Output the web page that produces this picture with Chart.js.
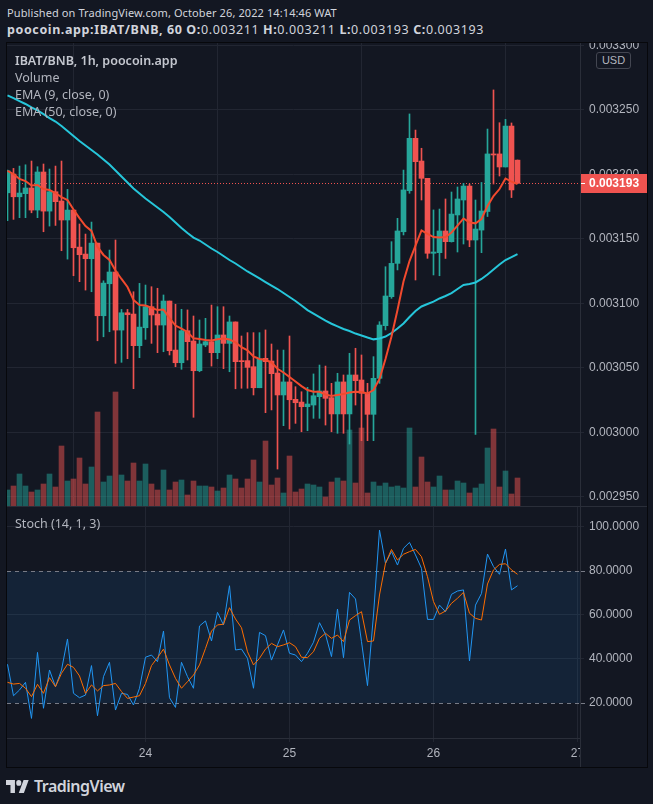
<!DOCTYPE html>
<html>
<head>
<meta charset="utf-8">
<script src="https://cdn.jsdelivr.net/npm/chart.js@4.4.1/dist/chart.umd.min.js"></script>
<style>
  html, body { margin: 0; padding: 0; background: #131722; }
  body { width: 653px; height: 804px; position: relative; overflow: hidden;
         font-family: "Noto Sans", "Open Sans", sans-serif; color: #d1d4dc; }
  .abs { position: absolute; white-space: nowrap; }
  #pub { left: 7px; top: 4px; font-size: 11px; line-height: 18px; letter-spacing: 0.1px; }
  #sym { left: 7px; top: 21px; font-size: 12.5px; line-height: 18px; letter-spacing: 0.6px; }
  #frame { left: 6px; top: 42px; width: 640px; height: 724px; border: 1px solid #07080c; }
  #frame canvas { position: absolute; left: 0; }
  #main { top: 0; }
  #sep { position: absolute; left: 0; top: 463px; width: 640px; height: 1px; background: #2a2e39; }
  #stoch { top: 464px; }
  .leg { left: 15px; font-size: 12.5px; line-height: 17px; color: #b2b5be; }
  #legTitle { top: 52px; font-weight: 600; color: #c4c7cf; }
  #usd { left: 596px; top: 52px; width: 33px; height: 15px; border: 1px solid #434651; border-radius: 3px;
         font: 11px "Liberation Sans", sans-serif; line-height: 15px; text-align: center; color: #b2b5be; background: #131722; }
  #logo { left: 6px; top: 776px; height: 20px; display: flex; align-items: center; }
  #logo span { font-size: 16px; font-weight: 600; letter-spacing: -0.5px; color: #d1d4dc; margin-left: 5px; }
</style>
</head>
<body>
<div class="abs" id="pub">Published on TradingView.com, October 26, 2022 14:14:46 WAT</div>
<div class="abs" id="sym"></div>

<div class="abs" id="frame">
  <canvas id="main" width="640" height="463"></canvas>
  <div id="sep"></div>
  <canvas id="stoch" width="640" height="260"></canvas>
</div>

<div class="abs leg" id="legTitle">IBAT/BNB, 1h, poocoin.app</div>
<div class="abs leg" style="top:69px">Volume</div>
<div class="abs leg" style="top:86px">EMA (9, close, 0)</div>
<div class="abs leg" style="top:103px">EMA (50, close, 0)</div>
<div class="abs leg" style="top:515px">Stoch (14, 1, 3)</div>
<div class="abs" id="usd">USD</div>
<div class="abs" id="logo">
  <svg width="23" height="13" viewBox="0 4 36 18" preserveAspectRatio="none"><g fill="#d1d4dc">
    <path d="M14 22H7V11H0V4h14v18zM28 22h-8l7.5-18h8L28 22z"/><circle cx="20" cy="8" r="4"/></g></svg>
  <span>TradingView</span>
</div>

<script>
// hours since Oct 23 00:00 (one candle per hour)
const hours = [1, 2, 3, 4, 5, 6, 7, 8, 9, 10, 11, 12, 13, 14, 15, 16, 17, 18, 19, 20,
  21, 22, 23, 24, 25, 26, 27, 28, 29, 30, 31, 32, 33, 34, 35, 36, 37, 38, 39, 40,
  41, 42, 43, 44, 45, 46, 47, 48, 49, 50, 51, 52, 53, 54, 55, 56, 57, 58, 59, 60,
  61, 62, 63, 64, 65, 66, 67, 68, 69, 70, 71, 72, 73, 74, 75, 76, 77, 78, 79, 80,
  81, 82, 83, 84, 85, 86];
const dayTicks = [24, 48, 72, 96];
const dayLabels = ['24', '25', '26', '27'];
const priceTicks = [0.00295, 0.003, 0.00305, 0.0031, 0.00315, 0.0032, 0.00325, 0.0033];
const stochTicks = [20, 40, 60, 80, 100];
const stochBand = [20, 80];

const open = [0.0031857, 0.0032002, 0.0031826, 0.0031850, 0.0031894, 0.0031723, 0.0032018, 0.0031715, 0.0031865, 0.0031793,
  0.0031646, 0.0031723, 0.0031436, 0.0031382, 0.0031346, 0.0031467, 0.0030904, 0.0031152, 0.0031243, 0.0030793,
  0.0030927, 0.0030917, 0.0030672, 0.0030811, 0.0030974, 0.0030917, 0.0030832, 0.0031018, 0.0030638, 0.0030540,
  0.0030788, 0.0030708, 0.0030478, 0.0030677, 0.0030703, 0.0030618, 0.0030755, 0.0030690, 0.0030856, 0.0030556,
  0.0030556, 0.0030509, 0.0030346, 0.0030574, 0.0030553, 0.0030460, 0.0030290, 0.0030391, 0.0030256, 0.0030235,
  0.0030199, 0.0030212, 0.0030277, 0.0030321, 0.0030269, 0.0030143, 0.0030391, 0.0030143, 0.0030445, 0.0030406,
  0.0030303, 0.0030140, 0.0030419, 0.0030827, 0.0031052, 0.0031310, 0.0031555, 0.0031873, 0.0032279, 0.0032103,
  0.0031969, 0.0031388, 0.0031393, 0.0031561, 0.0031478, 0.0031685, 0.0031801, 0.0031909, 0.0031491, 0.0031568,
  0.0031712, 0.0032158, 0.0032158, 0.0032057, 0.0032374, 0.0032110];
const high = [0.0032033, 0.0032046, 0.0032064, 0.0032074, 0.0032103, 0.0032059, 0.0032080, 0.0032041, 0.0032064, 0.0032103,
  0.0031883, 0.0031723, 0.0031615, 0.0031537, 0.0031630, 0.0031467, 0.0031175, 0.0031413, 0.0031491, 0.0030953,
  0.0030953, 0.0031090, 0.0031155, 0.0031142, 0.0031129, 0.0031117, 0.0031065, 0.0031018, 0.0030993, 0.0030954,
  0.0030949, 0.0030902, 0.0030871, 0.0030884, 0.0030987, 0.0030974, 0.0030974, 0.0030902, 0.0030856, 0.0030747,
  0.0030773, 0.0030773, 0.0030773, 0.0030794, 0.0030685, 0.0030638, 0.0030638, 0.0030747, 0.0030354, 0.0030315,
  0.0030349, 0.0030453, 0.0030522, 0.0030514, 0.0030380, 0.0030458, 0.0030445, 0.0030613, 0.0030652, 0.0030600,
  0.0030380, 0.0030587, 0.0030858, 0.0031284, 0.0031478, 0.0031659, 0.0032033, 0.0032468, 0.0032343, 0.0032202,
  0.0031969, 0.0031724, 0.0031731, 0.0031809, 0.0031863, 0.0031902, 0.0031930, 0.0031925, 0.0031801, 0.0031937,
  0.0032351, 0.0032654, 0.0032400, 0.0032426, 0.0032398, 0.0032111];
const low = [0.0031640, 0.0031651, 0.0031664, 0.0031664, 0.0031702, 0.0031664, 0.0031555, 0.0031599, 0.0031604, 0.0031408,
  0.0031343, 0.0031214, 0.0031168, 0.0031103, 0.0031090, 0.0030710, 0.0030741, 0.0030780, 0.0030535, 0.0030543,
  0.0030571, 0.0030339, 0.0030579, 0.0030721, 0.0030690, 0.0030618, 0.0030625, 0.0030600, 0.0030509, 0.0030489,
  0.0030561, 0.0030117, 0.0030470, 0.0030664, 0.0030514, 0.0030571, 0.0030494, 0.0030470, 0.0030338, 0.0030342,
  0.0030342, 0.0030290, 0.0030346, 0.0030153, 0.0030174, 0.0029716, 0.0030052, 0.0030026, 0.0030070, 0.0030005,
  0.0030013, 0.0030109, 0.0030109, 0.0030057, 0.0030005, 0.0029993, 0.0029993, 0.0029910, 0.0030212, 0.0029936,
  0.0029936, 0.0029936, 0.0030380, 0.0030794, 0.0031039, 0.0031259, 0.0031530, 0.0031853, 0.0031181, 0.0031801,
  0.0031349, 0.0031220, 0.0031214, 0.0031348, 0.0031475, 0.0031398, 0.0031460, 0.0031439, 0.0029984, 0.0031393,
  0.0031673, 0.0031925, 0.0031987, 0.0032057, 0.0031820, 0.0031930];
const close = [0.0032028, 0.0031826, 0.0031855, 0.0031894, 0.0031723, 0.0032018, 0.0031715, 0.0031865, 0.0031788, 0.0031646,
  0.0031723, 0.0031431, 0.0031377, 0.0031346, 0.0031467, 0.0030904, 0.0031157, 0.0031243, 0.0030793, 0.0030927,
  0.0030912, 0.0030672, 0.0030816, 0.0030974, 0.0030910, 0.0030832, 0.0031018, 0.0030633, 0.0030540, 0.0030788,
  0.0030703, 0.0030478, 0.0030685, 0.0030703, 0.0030618, 0.0030755, 0.0030690, 0.0030856, 0.0030548, 0.0030548,
  0.0030504, 0.0030346, 0.0030569, 0.0030548, 0.0030455, 0.0030290, 0.0030391, 0.0030253, 0.0030230, 0.0030199,
  0.0030220, 0.0030284, 0.0030321, 0.0030264, 0.0030143, 0.0030391, 0.0030143, 0.0030445, 0.0030401, 0.0030303,
  0.0030140, 0.0030419, 0.0030832, 0.0031057, 0.0031310, 0.0031561, 0.0031879, 0.0032279, 0.0032098, 0.0031969,
  0.0031388, 0.0031398, 0.0031561, 0.0031478, 0.0031692, 0.0031809, 0.0031909, 0.0031491, 0.0031576, 0.0031716,
  0.0032158, 0.0032150, 0.0032057, 0.0032374, 0.0031879, 0.0031930];
// volume, arbitrary units
const volume = [16, 20, 32, 20, 14, 16, 22, 32, 19, 60, 25, 27, 48, 22, 39, 94, 24, 30, 114, 31,
  25, 43, 25, 42, 22, 16, 36, 16, 24, 26, 11, 25, 20, 20, 19, 15, 18, 31, 27, 18,
  27, 46, 24, 65, 21, 28, 13, 50, 14, 17, 22, 21, 19, 9, 24, 28, 25, 76, 23, 78,
  13, 24, 20, 23, 19, 20, 18, 78, 19, 49, 24, 19, 30, 16, 16, 25, 23, 13, 18, 22,
  58, 77, 19, 35, 12, 28];
const ema9 = [0.0032026, 0.0032002, 0.0031964, 0.0031948, 0.0031913, 0.0031917, 0.0031886, 0.0031878, 0.0031855, 0.0031824,
  0.0031801, 0.0031727, 0.0031661, 0.0031599, 0.0031561, 0.0031437, 0.0031375, 0.0031336, 0.0031255, 0.0031189,
  0.0031127, 0.0031026, 0.0030987, 0.0030983, 0.0030966, 0.0030948, 0.0030952, 0.0030886, 0.0030828, 0.0030805,
  0.0030778, 0.0030729, 0.0030724, 0.0030716, 0.0030712, 0.0030721, 0.0030728, 0.0030720, 0.0030697, 0.0030660,
  0.0030636, 0.0030588, 0.0030569, 0.0030561, 0.0030542, 0.0030493, 0.0030464, 0.0030429, 0.0030394, 0.0030359,
  0.0030328, 0.0030315, 0.0030315, 0.0030294, 0.0030282, 0.0030290, 0.0030297, 0.0030309, 0.0030315, 0.0030313,
  0.0030301, 0.0030328, 0.0030414, 0.0030569, 0.0030743, 0.0030948, 0.0031169, 0.0031328, 0.0031448, 0.0031565,
  0.0031539, 0.0031514, 0.0031510, 0.0031514, 0.0031549, 0.0031603, 0.0031658, 0.0031627, 0.0031620, 0.0031654,
  0.0031754, 0.0031832, 0.0031886, 0.0031968, 0.0031944, 0.0031925];
const ema50 = [0.0032612, 0.0032591, 0.0032568, 0.0032545, 0.0032518, 0.0032495, 0.0032467, 0.0032436, 0.0032409, 0.0032374,
  0.0032336, 0.0032297, 0.0032258, 0.0032223, 0.0032188, 0.0032154, 0.0032115, 0.0032076, 0.0032030, 0.0031983,
  0.0031937, 0.0031890, 0.0031851, 0.0031813, 0.0031778, 0.0031743, 0.0031708, 0.0031669, 0.0031627, 0.0031584,
  0.0031545, 0.0031510, 0.0031487, 0.0031456, 0.0031425, 0.0031398, 0.0031367, 0.0031336, 0.0031309, 0.0031278,
  0.0031247, 0.0031220, 0.0031193, 0.0031165, 0.0031138, 0.0031111, 0.0031080, 0.0031049, 0.0031018, 0.0030983,
  0.0030948, 0.0030921, 0.0030894, 0.0030867, 0.0030842, 0.0030821, 0.0030801, 0.0030786, 0.0030766, 0.0030751,
  0.0030735, 0.0030721, 0.0030728, 0.0030743, 0.0030770, 0.0030805, 0.0030844, 0.0030894, 0.0030941, 0.0030976,
  0.0030995, 0.0031014, 0.0031038, 0.0031057, 0.0031080, 0.0031111, 0.0031142, 0.0031150, 0.0031162, 0.0031189,
  0.0031224, 0.0031262, 0.0031301, 0.0031336, 0.0031359, 0.0031382];
const stochK = [37.6, 23.3, 25.9, 29.4, 13.0, 43.0, 17.6, 35.0, 27.4, 35.0,
  49.1, 24.4, 22.4, 23.6, 37.0, 14.2, 32.0, 38.5, 16.8, 24.4,
  23.9, 19.1, 26.7, 40.8, 41.8, 38.8, 52.7, 22.4, 18.0, 38.5,
  32.0, 26.7, 55.0, 57.3, 48.2, 61.2, 55.5, 73.3, 44.1, 44.5,
  40.3, 26.7, 52.1, 50.6, 39.5, 46.4, 53.2, 42.6, 41.8, 38.8,
  42.6, 47.6, 56.5, 51.2, 41.1, 62.7, 40.6, 70.3, 67.3, 47.9,
  27.9, 60.0, 98.6, 83.5, 88.8, 82.7, 90.3, 93.0, 87.3, 81.2,
  58.0, 58.0, 64.5, 61.5, 69.4, 70.9, 71.4, 39.1, 64.5, 69.8,
  87.7, 82.0, 78.5, 90.0, 71.4, 73.3];
const stochD = [29.4, 28.6, 28.9, 26.7, 22.9, 28.5, 24.4, 31.5, 27.4, 33.5,
  37.6, 36.2, 32.3, 24.4, 28.2, 25.5, 27.9, 28.2, 28.9, 25.2,
  22.1, 22.7, 23.3, 28.9, 37.0, 40.6, 44.5, 37.3, 31.2, 26.7,
  29.7, 32.7, 37.3, 44.8, 52.7, 55.5, 55.8, 63.3, 58.2, 54.2,
  43.3, 37.3, 40.3, 44.5, 47.1, 45.6, 46.4, 47.4, 45.6, 40.8,
  40.6, 43.3, 49.4, 51.7, 49.4, 50.9, 47.9, 57.7, 59.7, 61.5,
  47.9, 48.2, 69.1, 83.5, 89.8, 85.0, 87.6, 88.8, 89.8, 86.5,
  77.4, 66.1, 60.3, 61.8, 65.3, 67.6, 70.3, 60.8, 58.5, 57.7,
  74.1, 80.5, 83.0, 83.3, 80.5, 78.5];

// visible window
const X_MIN = 0.9167, X_MAX = 96.417;
const PRICE_MIN = 0.00294295, PRICE_MAX = 0.00330178;
const VOL_MAX = 463;
const STOCH_MIN = 4.09, STOCH_MAX = 109.09;

const BG = '#131722';
const UP = '#26a69a', DOWN = '#ef5350';
const UP_VOL = 'rgba(38,166,154,0.5)', DOWN_VOL = 'rgba(239,83,80,0.5)';
const GRID = '#222632';
const AXIS_LINE = '#2a2e39';
const TEXT = '#b2b5be';

Chart.defaults.font.family = '"Liberation Sans", Arial, sans-serif';
Chart.defaults.font.size = 12;

const last = close.length - 1;
const isUp = close.map((c, k) => c >= open[k]);
const pt = (arr) => hours.map((h, k) => ({ x: h, y: arr[k] }));

// header with the last candle's OHLC
document.getElementById('sym').innerHTML =
  `<b>poocoin.app:IBAT/BNB, 60</b> <b>O:</b>${open[last].toFixed(6)} <b>H:</b>${high[last].toFixed(6)} ` +
  `<b>L:</b>${low[last].toFixed(6)} <b>C:</b>${close[last].toFixed(6)}`;

const noPad = (s) => { s.paddingTop = 0; s.paddingBottom = 0; s.paddingLeft = 0; s.paddingRight = 0; };

const xAxis = (showLabels) => ({
  type: 'linear', min: X_MIN, max: X_MAX, offset: false,
  afterBuildTicks: (s) => { s.ticks = dayTicks.map(v => ({ value: v })); },
  afterFit: (s) => { s.height = showLabels ? 29 : 0; noPad(s); },
  grid: { color: GRID, drawTicks: showLabels, tickLength: 4 },
  border: { display: showLabels, color: AXIS_LINE },
  ticks: {
    display: showLabels, color: TEXT, padding: 4, maxRotation: 0, autoSkip: false,
    callback: (v) => dayLabels[dayTicks.indexOf(v)]
  }
});

// last price: dotted line + red label on the price scale
const lastPricePlugin = {
  id: 'lastPrice',
  beforeDatasetsDraw(chart) {
    const { ctx, chartArea: a, scales: { y } } = chart;
    const py = Math.round(y.getPixelForValue(close[last])) + 0.5;
    ctx.save();
    ctx.strokeStyle = isUp[last] ? UP : DOWN;
    ctx.lineWidth = 1;
    ctx.setLineDash([1, 2]);
    ctx.beginPath(); ctx.moveTo(a.left, py); ctx.lineTo(a.right, py); ctx.stroke();
    ctx.restore();
  },
  afterDraw(chart) {
    const { ctx, chartArea: a, scales: { y } } = chart;
    const py = Math.round(y.getPixelForValue(close[last]));
    ctx.save();
    ctx.fillStyle = isUp[last] ? UP : DOWN;
    ctx.fillRect(a.right + 1, py - 9, chart.width - a.right - 1, 19);
    ctx.fillStyle = '#ffffff';
    ctx.fillRect(a.right + 1, py, 4, 1);
    ctx.font = 'bold 12px "Liberation Sans", Arial, sans-serif';
    ctx.textBaseline = 'middle';
    ctx.fillText(close[last].toFixed(6), a.right + 9, py + 1);
    ctx.restore();
  }
};

new Chart(document.getElementById('main'), {
  type: 'bar',
  data: {
    datasets: [
      { type: 'bar', label: 'Volume', yAxisID: 'yVol', data: pt(volume),
        backgroundColor: isUp.map(u => u ? UP_VOL : DOWN_VOL), barThickness: 5, grouped: false, order: 5 },
      { type: 'bar', label: 'Wick', yAxisID: 'y', data: hours.map((h, k) => ({ x: h, y: [low[k], high[k]] })),
        backgroundColor: isUp.map(u => u ? UP : DOWN), barThickness: 1, grouped: false, order: 4 },
      { type: 'bar', label: 'Body', yAxisID: 'y', data: hours.map((h, k) => ({ x: h, y: [open[k], close[k]] })),
        backgroundColor: isUp.map(u => u ? UP : DOWN), barThickness: 5, minBarLength: 1, grouped: false, order: 3 },
      { type: 'line', label: 'EMA 50', yAxisID: 'y', data: pt(ema50), borderColor: '#26c6da',
        borderWidth: 2, pointRadius: 0, order: 2 },
      { type: 'line', label: 'EMA 9', yAxisID: 'y', data: pt(ema9), borderColor: '#f24a2e',
        borderWidth: 2, pointRadius: 0, order: 1 }
    ]
  },
  options: {
    responsive: false, animation: false, events: [],
    layout: { padding: 0 },
    plugins: { legend: { display: false }, tooltip: { enabled: false } },
    scales: {
      x: xAxis(false),
      y: {
        position: 'right', min: PRICE_MIN, max: PRICE_MAX,
        afterBuildTicks: (s) => { s.ticks = priceTicks.map(v => ({ value: v })); },
        afterFit: (s) => { s.width = 67; noPad(s); },
        grid: { color: GRID, tickLength: 4 },
        border: { color: AXIS_LINE },
        ticks: { color: TEXT, padding: 5, autoSkip: false, callback: (v) => v.toFixed(6) }
      },
      yVol: { display: false, min: 0, max: VOL_MAX }
    }
  },
  plugins: [lastPricePlugin]
});

// stochastic pane: 20-80 band, dashed bounds, clip the x labels under the price scale
const bandPlugin = {
  id: 'band',
  beforeDatasetsDraw(chart) {
    const { ctx, chartArea: a, scales: { y } } = chart;
    const top = y.getPixelForValue(stochBand[1]);
    const bot = y.getPixelForValue(stochBand[0]);
    ctx.save();
    ctx.fillStyle = 'rgba(33,150,243,0.1)';
    ctx.fillRect(a.left, top, a.right - a.left, bot - top);
    ctx.strokeStyle = '#787b86';
    ctx.lineWidth = 1;
    [top, bot].forEach(py => {
      const yy = Math.round(py) + 0.5;
      ctx.setLineDash([4, 4]);
      ctx.beginPath(); ctx.moveTo(a.left, yy); ctx.lineTo(a.right, yy); ctx.stroke();
      ctx.setLineDash([]);
      ctx.beginPath(); ctx.moveTo(a.right + 1, yy); ctx.lineTo(a.right + 5, yy); ctx.stroke();
    });
    ctx.restore();
  },
  afterDraw(chart) {
    const { ctx, chartArea: a } = chart;
    ctx.save();
    ctx.fillStyle = BG;
    ctx.fillRect(a.right + 1, a.bottom + 1, chart.width - a.right - 1, chart.height - a.bottom - 1);
    ctx.fillStyle = AXIS_LINE;
    ctx.fillRect(a.right, a.bottom, 1, chart.height - a.bottom);
    ctx.restore();
  }
};

new Chart(document.getElementById('stoch'), {
  type: 'line',
  data: {
    datasets: [
      { label: '%K', data: pt(stochK), borderColor: '#2196f3', borderWidth: 1, pointRadius: 0, order: 2 },
      { label: '%D', data: pt(stochD), borderColor: '#ff6d00', borderWidth: 1, pointRadius: 0, order: 1 }
    ]
  },
  options: {
    responsive: false, animation: false, events: [],
    layout: { padding: 0 },
    plugins: { legend: { display: false }, tooltip: { enabled: false } },
    scales: {
      x: xAxis(true),
      y: {
        position: 'right', min: STOCH_MIN, max: STOCH_MAX,
        afterBuildTicks: (s) => { s.ticks = stochTicks.map(v => ({ value: v })); },
        afterFit: (s) => { s.width = 67; noPad(s); },
        grid: {
          color: (c) => (c.tick && stochBand.includes(c.tick.value)) ? 'rgba(0,0,0,0)' : GRID,
          tickLength: 4
        },
        border: { color: AXIS_LINE },
        ticks: { color: TEXT, padding: 5, autoSkip: false, callback: (v) => v.toFixed(4) }
      }
    }
  },
  plugins: [bandPlugin]
});
</script>
</body>
</html>
